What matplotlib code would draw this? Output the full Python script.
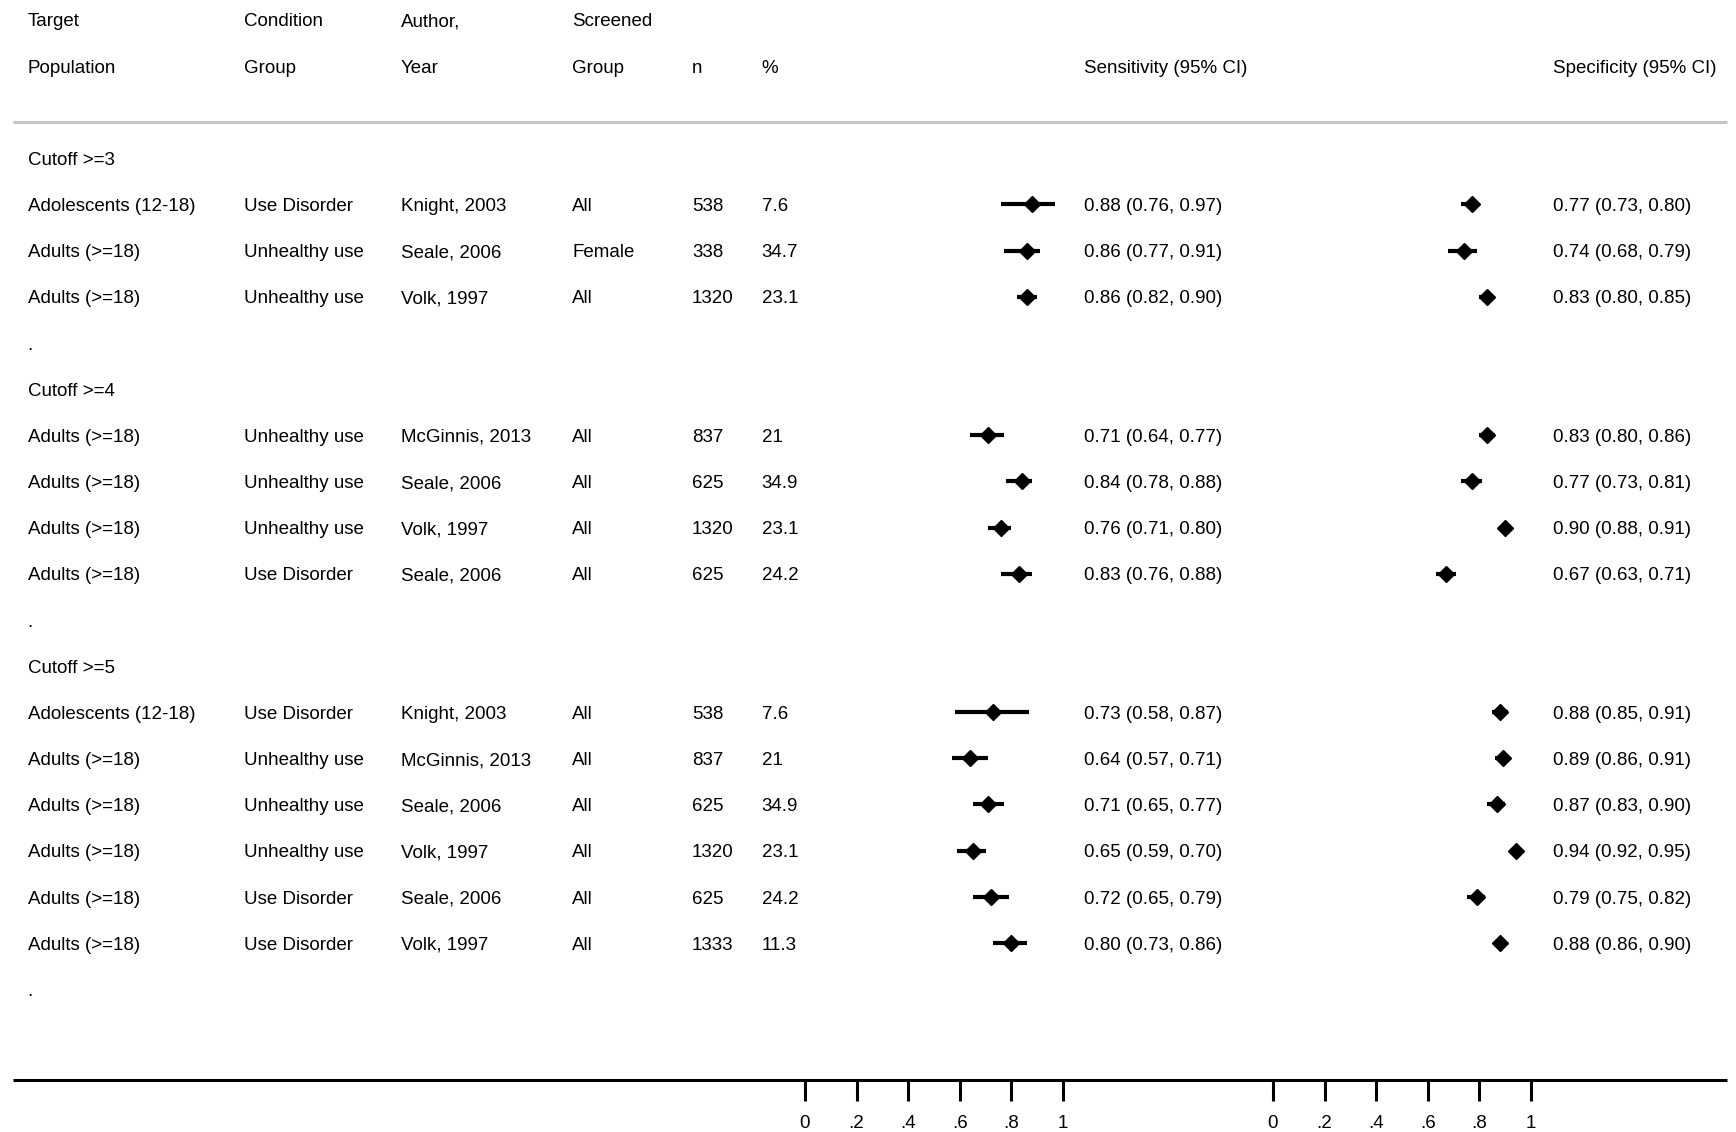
import matplotlib
matplotlib.use("Agg")
import matplotlib.pyplot as plt

plt.rcParams["font.family"] = ["Liberation Sans", "DejaVu Sans"]

# study rows, grouped by cutoff
groups = ["Cutoff >=3", "Cutoff >=4", "Cutoff >=5"]
group_of = [0, 0, 0, 1, 1, 1, 1, 2, 2, 2, 2, 2, 2]
population = ["Adolescents (12-18)", "Adults (>=18)", "Adults (>=18)",
              "Adults (>=18)", "Adults (>=18)", "Adults (>=18)", "Adults (>=18)",
              "Adolescents (12-18)", "Adults (>=18)", "Adults (>=18)", "Adults (>=18)",
              "Adults (>=18)", "Adults (>=18)"]
condition = ["Use Disorder", "Unhealthy use", "Unhealthy use",
             "Unhealthy use", "Unhealthy use", "Unhealthy use", "Use Disorder",
             "Use Disorder", "Unhealthy use", "Unhealthy use", "Unhealthy use",
             "Use Disorder", "Use Disorder"]
author = ["Knight, 2003", "Seale, 2006", "Volk, 1997",
          "McGinnis, 2013", "Seale, 2006", "Volk, 1997", "Seale, 2006",
          "Knight, 2003", "McGinnis, 2013", "Seale, 2006", "Volk, 1997",
          "Seale, 2006", "Volk, 1997"]
screened = ["All", "Female", "All", "All", "All", "All", "All",
            "All", "All", "All", "All", "All", "All"]
n_obs = ["538", "338", "1320", "837", "625", "1320", "625",
         "538", "837", "625", "1320", "625", "1333"]
pct = ["7.6", "34.7", "23.1", "21", "34.9", "23.1", "24.2",
       "7.6", "21", "34.9", "23.1", "24.2", "11.3"]

sens = [0.88, 0.86, 0.86, 0.71, 0.84, 0.76, 0.83, 0.73, 0.64, 0.71, 0.65, 0.72, 0.80]
sens_lo = [0.76, 0.77, 0.82, 0.64, 0.78, 0.71, 0.76, 0.58, 0.57, 0.65, 0.59, 0.65, 0.73]
sens_hi = [0.97, 0.91, 0.90, 0.77, 0.88, 0.80, 0.88, 0.87, 0.71, 0.77, 0.70, 0.79, 0.86]
spec = [0.77, 0.74, 0.83, 0.83, 0.77, 0.90, 0.67, 0.88, 0.89, 0.87, 0.94, 0.79, 0.88]
spec_lo = [0.73, 0.68, 0.80, 0.80, 0.73, 0.88, 0.63, 0.85, 0.86, 0.83, 0.92, 0.75, 0.86]
spec_hi = [0.80, 0.79, 0.85, 0.86, 0.81, 0.91, 0.71, 0.91, 0.91, 0.90, 0.95, 0.82, 0.90]

tick_vals = [0, 0.2, 0.4, 0.6, 0.8, 1.0]
tick_labels = ["0", ".2", ".4", ".6", ".8", "1"]

# row layout: group header, studies, then a "." spacer row
rows_y = []
group_y = []
dot_y = []
y = 0
for g in range(len(groups)):
    group_y.append(y)
    y += 1
    for i, gi in enumerate(group_of):
        if gi == g:
            rows_y.append(y)
            y += 1
    dot_y.append(y)
    y += 1

Y_TOP, Y_BOT = -3.43, 21.09
AXIS_Y = 19.97
FS = 13.5
TXT = dict(fontsize=FS, va="center_baseline")

fig = plt.figure(figsize=(17.36, 11.32), dpi=100)
ax = fig.add_axes([0, 0, 1, 1])
ax.set_xlim(0, 1)
ax.set_ylim(Y_BOT, Y_TOP)
ax.axis("off")

cols = [0.0159, 0.1403, 0.2309, 0.3297, 0.3986, 0.4388]
head1 = ["Target", "Condition", "Author,", "Screened", "", ""]
head2 = ["Population", "Group", "Year", "Group", "n", "%"]
for x, h1, h2 in zip(cols, head1, head2):
    ax.text(x, -3, h1, **TXT)
    ax.text(x, -2, h2, **TXT)
ax.text(0.6244, -2, "Sensitivity (95% CI)", **TXT)
ax.text(0.8948, -2, "Specificity (95% CI)", **TXT)

ax.plot([0.0077, 0.995], [-0.79, -0.79], color="#c4c4c4", lw=2.2,
        solid_capstyle="butt")
ax.plot([0.0077, 0.995], [AXIS_Y, AXIS_Y], color="black", lw=2.2,
        solid_capstyle="butt")

for g, gy in enumerate(groups):
    ax.text(cols[0], group_y[g], gy, **TXT)
    ax.text(cols[0], dot_y[g], ".", **TXT)

for i, ry in enumerate(rows_y):
    vals = [population[i], condition[i], author[i], screened[i], n_obs[i], pct[i]]
    for x, v in zip(cols, vals):
        ax.text(x, ry, v, **TXT)
    ax.text(0.6244, ry, f"{sens[i]:.2f} ({sens_lo[i]:.2f}, {sens_hi[i]:.2f})", **TXT)
    ax.text(0.8948, ry, f"{spec[i]:.2f} ({spec_lo[i]:.2f}, {spec_hi[i]:.2f})", **TXT)

bottom = 1 - 1080 / 1132
for left, est, lo, hi in [(805 / 1736, sens, sens_lo, sens_hi),
                          (1273 / 1736, spec, spec_lo, spec_hi)]:
    fa = fig.add_axes([left, bottom, 258 / 1736, 1 - bottom])
    fa.set_xlim(0, 1)
    fa.set_ylim(AXIS_Y, Y_TOP)
    fa.patch.set_alpha(0)
    for s in fa.spines.values():
        s.set_visible(False)
    fa.hlines(rows_y, lo, hi, color="black", lw=3.0)
    fa.plot(est, rows_y, "D", color="black", markersize=8.5, linestyle="none")
    fa.set_yticks([])
    fa.set_xticks(tick_vals)
    fa.set_xticklabels(tick_labels, fontsize=FS)
    fa.tick_params(axis="x", direction="out", length=15, width=2.2, pad=10)

fig.savefig("out.png", dpi=100)
